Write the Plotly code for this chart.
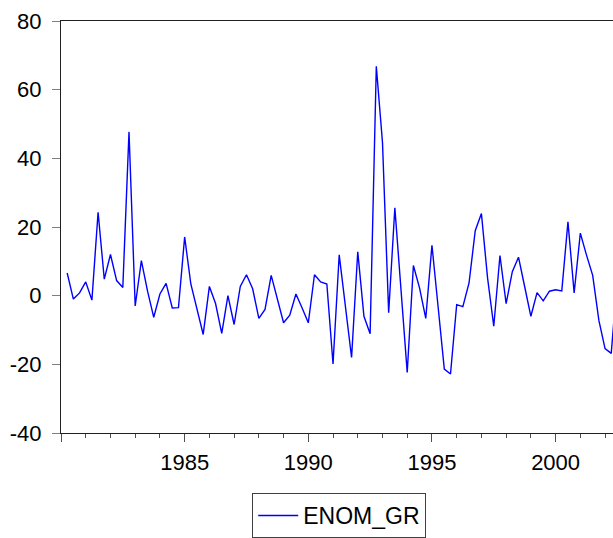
import pandas as pd
import plotly.graph_objects as go

# Quarterly growth rate series, 1980Q2 onward
start_period = "1980Q2"
enom_gr = [
    6.6, -1.0, 0.8,
    4.0, -1.3, 24.3, 4.8,
    12.0, 4.4, 2.4, 47.7,
    -3.0, 10.2, 1.3, -6.3,
    0.5, 3.6, -3.6, -3.5,
    17.1, 3.4, -4.3, -11.3,
    2.7, -2.3, -11.0, 0.0,
    -8.4, 2.7, 6.1, 2.0,
    -6.6, -4.0, 5.9, -0.7,
    -7.9, -5.7, 0.5, -3.6,
    -7.9, 6.1, 4.0, 3.4,
    -19.9, 11.9, -3.1, -18.0,
    12.8, -6.0, -11.1, 66.8,
    44.6, -5.0, 25.6, 1.6,
    -22.4, 8.8, 2.2, -6.6,
    14.7, -3.3, -21.4, -22.8,
    -2.6, -3.2, 3.7, 18.9,
    23.9, 5.1, -8.9, 11.7,
    -2.3, 7.0, 11.2, 2.6,
    -6.0, 0.9, -1.5, 1.3,
    1.7, 1.4, 21.5, 0.8,
    18.2, 11.8, 5.9, -7.2,
    -15.4, -16.8, 5.5,
]
series_name = "ENOM_GR"
x_tickvals = [1980, 1985, 1990, 1995, 2000]
x_ticktext = ["", "1985", "1990", "1995", "2000"]
y_tickvals = [-40, -20, 0, 20, 40, 60, 80]
y_ticktext = ["-40", "-20", "0", "20", "40", "60", "80"]

periods = pd.period_range(start=start_period, periods=len(enom_gr), freq="Q")
x = [p.year + (p.quarter - 1) / 4 for p in periods]

FONT = "Liberation Sans, Arial, sans-serif"

fig = go.Figure()
fig.add_trace(go.Scatter(
    x=x, y=enom_gr, mode="lines", name=series_name,
    line=dict(color="#0000FF", width=1.4),
    showlegend=True,
))

fig.update_layout(
    width=613, height=538,
    margin=dict(l=61, r=0, t=21, b=101),
    paper_bgcolor="white", plot_bgcolor="white",
    font=dict(family=FONT, size=22, color="#000000"),
    showlegend=True,
    legend=dict(
        x=0.504, xanchor="center", y=-0.147, yanchor="top",
        bordercolor="#404040", borderwidth=1, bgcolor="white",
        font=dict(family=FONT, size=23, color="#000000"),
        itemwidth=40,
    ),
)

fig.update_xaxes(
    range=[1980, 1980 + 552 / 24.73],
    showgrid=False, zeroline=False,
    showline=True, linecolor="#202020", linewidth=1.2, mirror=True,
    tickmode="array", tickvals=x_tickvals, ticktext=x_ticktext,
    ticks="outside", ticklen=8, tickwidth=1, tickcolor="#505050",
    ticklabelstandoff=1,
    minor=dict(dtick=1, tick0=1980, ticks="outside", ticklen=4,
               tickwidth=1, tickcolor="#505050", showgrid=False),
    tickfont=dict(family=FONT, size=22, color="#000000"),
)
fig.update_yaxes(
    range=[-40, 80],
    showgrid=False, zeroline=False,
    showline=True, linecolor="#202020", linewidth=1.2, mirror=False,
    tickmode="array", tickvals=y_tickvals, ticktext=y_ticktext,
    ticks="outside", ticklen=8, tickwidth=1, tickcolor="#808080",
    ticklabelstandoff=6,
    tickfont=dict(family=FONT, size=22, color="#000000"),
)

fig.write_html("out.html")
